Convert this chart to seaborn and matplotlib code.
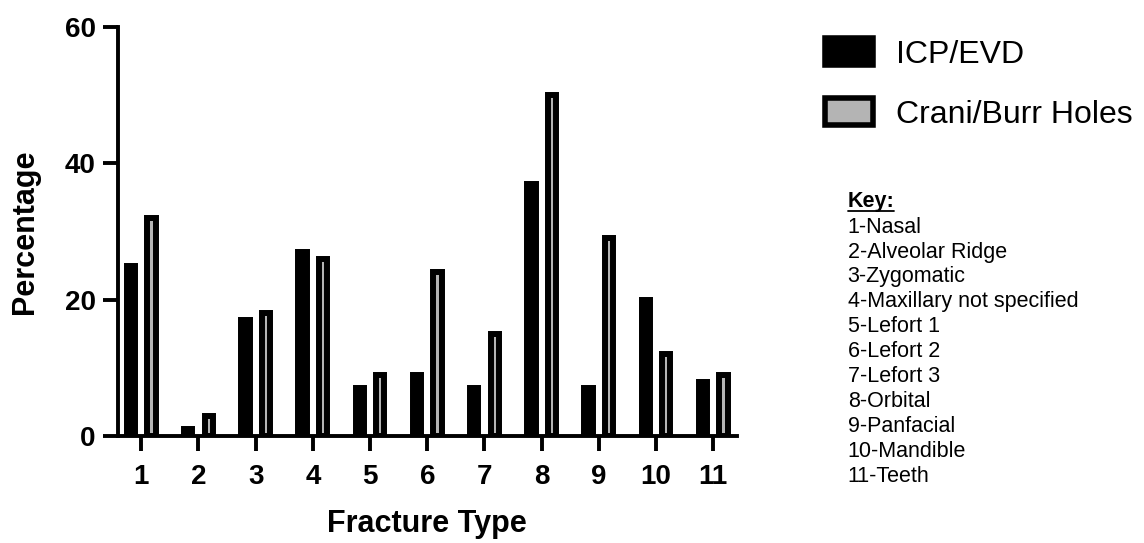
import pandas as pd
import seaborn as sns
import matplotlib.pyplot as plt
from matplotlib.lines import Line2D


# ==================== Data ====================

fracture_types = ["1", "2", "3", "4", "5", "6", "7", "8", "9", "10", "11"]
icp_evd = [25, 1, 17, 27, 7, 9, 7, 37, 7, 20, 8]
crani_burr = [32, 3, 18, 26, 9, 24, 15, 50, 29, 12, 9]
series_names = ["ICP/EVD", "Crani/Burr Holes"]
key_lines = [
    "1-Nasal",
    "2-Alveolar Ridge",
    "3-Zygomatic",
    "4-Maxillary not specified",
    "5-Lefort 1",
    "6-Lefort 2",
    "7-Lefort 3",
    "8-Orbital",
    "9-Panfacial",
    "10-Mandible",
    "11-Teeth",
]

data = pd.DataFrame({
    "Fracture Type": fracture_types * 2,
    "Percentage": icp_evd + crani_burr,
    "Procedure": [series_names[0]] * len(icp_evd) + [series_names[1]] * len(crani_burr),
})


# ==================== Plot ====================

sns.set_style("ticks", {"axes.edgecolor": "black", "text.color": "black",
                        "xtick.color": "black", "ytick.color": "black",
                        "axes.labelcolor": "black"})
plt.rcParams["font.family"] = ["Liberation Sans", "DejaVu Sans"]

fig = plt.figure(figsize=(11.44, 5.43), dpi=100)
ax = fig.add_axes([0.103, 0.197, 0.541, 0.753])

palette = {series_names[0]: "black", series_names[1]: "#b4b4b4"}
sns.barplot(
    data, x="Fracture Type", y="Percentage", hue="Procedure",
    palette=palette, saturation=1, width=0.72, gap=0.6,
    edgecolor="black", linewidth=4.3, ax=ax, legend=False,
)

ax.set_ylim(0, 60)
ax.set_yticks([0, 20, 40, 60])
ax.set_xlim(-0.41, 10.41)
for side in ["top", "right"]:
    ax.spines[side].set_visible(False)
for side in ["left", "bottom"]:
    ax.spines[side].set_linewidth(2.8)
ax.tick_params(axis="both", length=11, width=2.8, labelsize=20, pad=5)
ax.tick_params(axis="x", pad=9)
for lab in ax.get_xticklabels() + ax.get_yticklabels():
    lab.set_fontweight("bold")
ax.set_xlabel("Fracture Type", fontsize=22, fontweight="bold", labelpad=14)
ax.set_ylabel("Percentage", fontsize=22, fontweight="bold", labelpad=18)

# ----------- Legend
handles = [
    plt.Rectangle((0, 0), 1, 1, facecolor=palette[name], edgecolor="black", linewidth=4)
    for name in series_names
]
fig.legend(
    handles, series_names, loc="upper left", bbox_to_anchor=(0.716, 0.941),
    frameon=False, fontsize=23, handlelength=1.5, handleheight=0.9,
    handletextpad=0.7, labelspacing=0.9, borderaxespad=0, borderpad=0.2,
)

# ----------- Key
key_title = fig.text(0.741, 0.628, "Key:", fontsize=15.5, fontweight="bold", va="center")
fig.text(0.741, 0.601, "\n".join(key_lines), fontsize=15.5, va="top", linespacing=1.245)

fig.canvas.draw()
bb = key_title.get_window_extent().transformed(fig.transFigure.inverted())
fig.add_artist(Line2D([bb.x0, bb.x1], [bb.y0 + 0.002, bb.y0 + 0.002],
                      color="black", linewidth=1.3, transform=fig.transFigure))

plt.savefig("out.png", dpi=100)
